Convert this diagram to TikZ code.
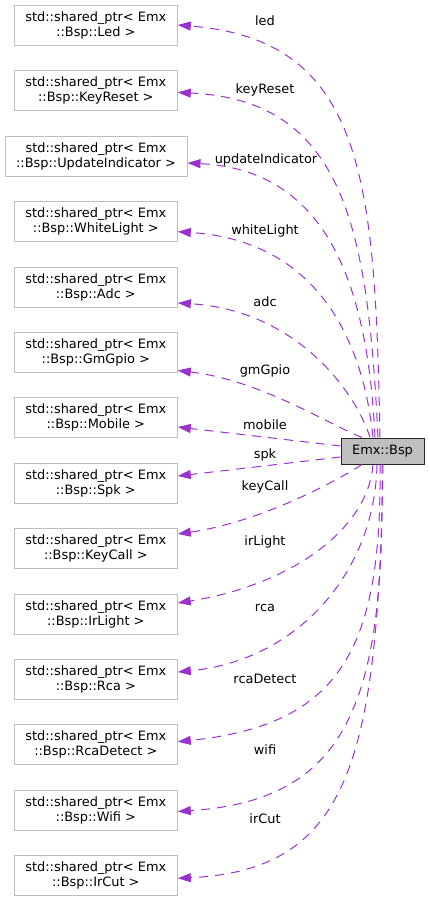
\documentclass[tikz,border=0pt]{standalone}
\usepackage{fontspec}
\setmainfont{DejaVu Sans}
\usetikzlibrary{arrows.meta}
\definecolor{edgec}{HTML}{9A32CD}
\definecolor{boxgray}{HTML}{BFBFBF}
\begin{document}
\begin{tikzpicture}[x=1pt,y=-1pt,
  every node/.style={font=\fontsize{12.9}{15}\selectfont},
  cls/.style={draw=boxgray, line width=1pt, align=center, minimum width=163pt, minimum height=40pt, inner sep=0pt},
  root/.style={draw=black!85, fill=boxgray, line width=1pt, minimum width=83pt, minimum height=26pt, inner sep=0pt},
  lbl/.style={anchor=base, inner sep=0pt},
  edge/.style={draw=edgec, line width=1pt, dash pattern=on 9pt off 7pt, -{Triangle[length=13pt,width=9pt]}}]
\useasboundingbox (0,0) rectangle (429,901);

\node[cls] (led) at (95.8,25.5) {std::shared\_ptr< Emx\\::Bsp::Led >};
\node[cls] (keyreset) at (95.8,90.9) {std::shared\_ptr< Emx\\::Bsp::KeyReset >};
\node[cls, minimum width=182pt] (updind) at (96,156.3) {std::shared\_ptr< Emx\\::Bsp::UpdateIndicator >};
\node[cls] (whitelight) at (95.8,221.7) {std::shared\_ptr< Emx\\::Bsp::WhiteLight >};
\node[cls] (adc) at (95.8,287.1) {std::shared\_ptr< Emx\\::Bsp::Adc >};
\node[cls] (gmgpio) at (95.8,352.5) {std::shared\_ptr< Emx\\::Bsp::GmGpio >};
\node[cls] (mobile) at (95.8,417.9) {std::shared\_ptr< Emx\\::Bsp::Mobile >};
\node[cls] (spk) at (95.8,483.3) {std::shared\_ptr< Emx\\::Bsp::Spk >};
\node[cls] (keycall) at (95.8,548.7) {std::shared\_ptr< Emx\\::Bsp::KeyCall >};
\node[cls] (irlight) at (95.8,614.1) {std::shared\_ptr< Emx\\::Bsp::IrLight >};
\node[cls] (rca) at (95.8,679.5) {std::shared\_ptr< Emx\\::Bsp::Rca >};
\node[cls] (rcadetect) at (95.8,744.9) {std::shared\_ptr< Emx\\::Bsp::RcaDetect >};
\node[cls] (wifi) at (95.8,810.3) {std::shared\_ptr< Emx\\::Bsp::Wifi >};
\node[cls] (ircut) at (95.8,875.7) {std::shared\_ptr< Emx\\::Bsp::IrCut >};

\node[root] (bsp) at (382.5,451) {Emx::Bsp};

\draw[edge] ([xshift=-2.5pt]bsp.north) .. controls (375,180) and (365,40) .. ([yshift=0.5pt]led.east);
\draw[edge] ([xshift=-4.5pt]bsp.north) .. controls (368,230) and (345,100) .. ([yshift=-1.6pt]keyreset.east);
\draw[edge] ([xshift=-7.5pt]bsp.north) .. controls (368,290) and (330,170) .. ([yshift=-6.7pt]updind.east);
\draw[edge] ([xshift=-9.5pt]bsp.north) .. controls (362,330) and (310,240) .. ([yshift=-10pt]whitelight.east);
\draw[edge] ([xshift=-12.5pt]bsp.north) .. controls (355,390) and (295,310) .. ([yshift=-15.9pt]adc.east);
\draw[edge] ([xshift=-20.5pt]bsp.north) .. controls (330,425) and (260,380) .. ([yshift=-18pt]gmgpio.east);
\draw[edge] ([yshift=5pt]bsp.west) -- ([yshift=-9.1pt]mobile.east);
\draw[edge] ([yshift=-6pt]bsp.west) -- ([yshift=7.3pt]spk.east);
\draw[edge] ([xshift=-20.5pt]bsp.south) .. controls (335,482) and (260,522) .. ([yshift=14.7pt]keycall.east);
\draw[edge] ([xshift=-9.5pt]bsp.south) .. controls (368,530) and (290,585) .. ([yshift=11.1pt]irlight.east);
\draw[edge] ([xshift=-5.5pt]bsp.south) .. controls (375,570) and (300,660) .. ([yshift=7.5pt]rca.east);
\draw[edge] ([xshift=-2.5pt]bsp.south) .. controls (382,650) and (340,725) .. ([yshift=3.2pt]rcadetect.east);
\draw[edge] ([xshift=-0.5pt]bsp.south) .. controls (385,700) and (350,800) .. ([yshift=-1.2pt]wifi.east);
\draw[edge] ([xshift=0.5pt]bsp.south) .. controls (378,760) and (350,870) .. ([yshift=-2.6pt]ircut.east);

\node[lbl] (lled) at (265,26) {led};
\node[lbl] (lkeyreset) at (265,94) {keyReset};
\node[lbl] (lupdind) at (266,163.5) {updateIndicator};
\node[lbl] (lwhitelight) at (265,234.3) {whiteLight};
\node[lbl] (ladc) at (265,306) {adc};
\node[lbl] (lgmgpio) at (265,374.3) {gmGpio};
\node[lbl] (lmobile) at (265,429.3) {mobile};
\node[lbl] (lspk) at (265,458.3) {spk};
\node[lbl] (lkeycall) at (265,490.7) {keyCall};
\node[lbl] (lirlight) at (265,545.7) {irLight};
\node[lbl] (lrca) at (265,611.7) {rca};
\node[lbl] (lrcadetect) at (265,683) {rcaDetect};
\node[lbl] (lwifi) at (265,754) {wifi};
\node[lbl] (lircut) at (265,823.3) {irCut};
\end{tikzpicture}
\end{document}
